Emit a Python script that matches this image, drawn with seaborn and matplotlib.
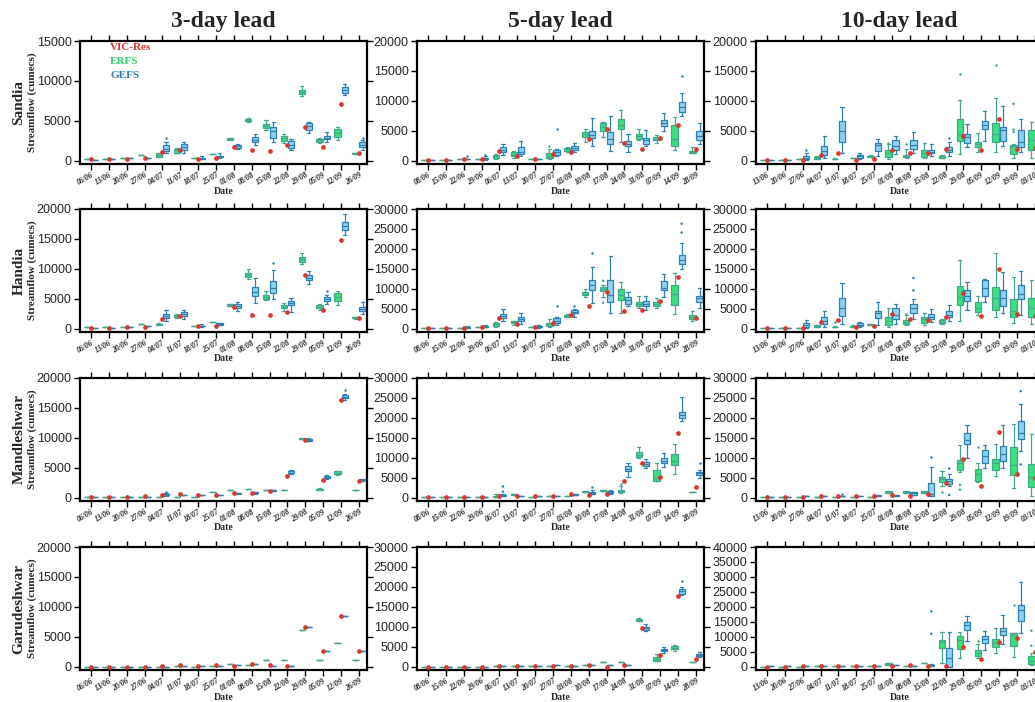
import matplotlib
matplotlib.use("Agg")
import matplotlib.pyplot as plt
import seaborn as sns
import pandas as pd

# dates of the forecast issue for each lead time
dates_3 = ['06/06', '13/06', '20/06', '27/06', '04/07', '11/07', '18/07', '25/07',
           '01/08', '08/08', '15/08', '22/08', '29/08', '05/09', '12/09', '26/09']
dates_5 = ['08/06', '15/06', '22/06', '29/06', '06/07', '13/07', '20/07', '27/07',
           '03/08', '10/08', '17/08', '24/08', '31/08', '07/09', '14/09', '28/09']
dates_10 = ['13/06', '20/06', '27/06', '04/07', '11/07', '18/07', '25/07', '01/08',
            '08/08', '15/08', '22/08', '29/08', '05/09', '12/09', '19/09', '03/10']

# boxes: (low whisker, q1, median, q3, high whisker) or one value for a flat box
# outliers: (date index, model, value)

# ---- Sandia
sandia_3_erfs = [150, 200, 300, 700, (450, 500, 650, 900, 950), (900, 1000, 1300, 1500, 1600), 300, 800,
                 (2600, 2650, 2700, 2800, 2850), (4900, 5000, 5100, 5200, 5400), (3900, 4100, 4300, 4600, 5100),
                 (2200, 2500, 2800, 3100, 3400), (8100, 8300, 8600, 8900, 9300), (2200, 2400, 2550, 2700, 2900),
                 (2600, 3000, 3500, 4000, 4200), (850, 870, 900, 950, 1000)]
sandia_3_gefs = [100, 150, 300, 300, (900, 1200, 1500, 1900, 2300), (1000, 1350, 1700, 2100, 2300),
                 (200, 250, 300, 350, 600), (300, 400, 500, 600, 900), (1500, 1600, 1800, 2000, 2100),
                 (2000, 2300, 2600, 3000, 3300), (2300, 2900, 3700, 4200, 4900), (1300, 1600, 2000, 2500, 2700),
                 (3500, 3900, 4300, 4700, 4900), (2400, 2700, 2900, 3100, 3600), (8200, 8500, 8800, 9200, 9600),
                 (1300, 1700, 2000, 2300, 2600)]
sandia_3_obs = [150, 150, 250, 300, 1050, 1350, 250, 350, 1750, 1300, 1200, 1900, 4200, 1750, 7100, 900]
sandia_3_out = [(4, 'GEFS', 2800), (15, 'GEFS', 2800)]

sandia_5_erfs = [100, 150, 200, 300, (300, 400, 700, 1000, 1100), (500, 700, 1000, 1400, 1600), 250,
                 (200, 400, 800, 1300, 2000), (1400, 1600, 1900, 2100, 2200), (3100, 3900, 4400, 4800, 5300),
                 (3900, 5000, 5700, 6300, 6400), (3100, 5300, 6000, 7000, 8400), (3500, 3700, 4100, 4500, 5300),
                 (2900, 3400, 3600, 3900, 4300), (1700, 2400, 3600, 5900, 7300), (1200, 1300, 1400, 1600, 2200)]
sandia_5_gefs = [100, 100, 250, (100, 200, 300, 500, 700), (1000, 1400, 1800, 2200, 2800),
                 (700, 1100, 1500, 2300, 3300), 300, (800, 1000, 1400, 1800, 2000), (1400, 1800, 2100, 2400, 2900),
                 (2400, 3800, 4300, 5000, 7200), (1600, 2800, 3700, 4800, 7500), (1400, 2400, 2800, 3300, 4400),
                 (2400, 2800, 3400, 3800, 5200), (5000, 5800, 6300, 6800, 8000), (7500, 8200, 9000, 9800, 11300),
                 (2700, 3400, 4100, 4900, 6300)]
sandia_5_obs = [100, 100, 200, 250, 1550, 700, 200, 1050, 1450, 3600, 5300, 2900, 1900, 3800, 6000, 1900]
sandia_5_out = [(2, 'GEFS', 700), (3, 'GEFS', 1000), (7, 'ERFS', 2500), (7, 'GEFS', 5300), (14, 'GEFS', 14100)]

sandia_10_erfs = [100, 150, 200, (200, 200, 400, 600, 800), (250, 280, 300, 330, 400), 400,
                  (600, 600, 700, 800, 900), (300, 600, 1200, 1700, 2800), (400, 600, 800, 1000, 2000),
                  (400, 600, 1300, 1700, 3000), (500, 500, 700, 800, 900), (1100, 3300, 4500, 6900, 10100),
                  (1500, 2200, 2800, 3200, 4600), (1400, 3200, 4500, 6300, 10400), (500, 1100, 2400, 2600, 2800),
                  (500, 1800, 3500, 5100, 6400)]
sandia_10_gefs = [100, 150, (100, 200, 500, 800, 1200), (500, 900, 1600, 2400, 4100), (1200, 3100, 4900, 6600, 8900),
                  (300, 400, 700, 900, 1200), (700, 1600, 2600, 2900, 3700), (1100, 1800, 2500, 3400, 4200),
                  (1200, 1900, 2600, 3400, 4800), (800, 1200, 1500, 1800, 2700), (700, 1500, 1800, 2200, 3200),
                  (2200, 2900, 4000, 4400, 6100), (3300, 5300, 6000, 6600, 8300), (2500, 3300, 5200, 5700, 9100),
                  (1400, 2300, 3200, 5200, 7000), (1500, 2500, 3300, 4500, 6000)]
sandia_10_obs = [100, 150, 150, 1000, 1300, 150, 300, 1700, 1300, 1200, 1900, 4100, 1700, 7000, 1900, 2100]
sandia_10_out = [(2, 'GEFS', 1800), (7, 'ERFS', 3000), (8, 'ERFS', 2800), (10, 'GEFS', 3800), (11, 'ERFS', 14500),
                 (13, 'ERFS', 16000), (14, 'ERFS', 4800), (14, 'ERFS', 5200), (14, 'ERFS', 9500)]

# ---- Handia
handia_3_erfs = [200, 200, 300, 800, (600, 620, 750, 850, 870), (1800, 1900, 2100, 2300, 2400), 450, 1100,
                 (3750, 3800, 3950, 4100, 4150), (8300, 8700, 9000, 9300, 10000), (4800, 5000, 5300, 5600, 6300),
                 (3000, 3400, 3700, 4000, 4300), (10800, 11200, 11600, 12000, 12700), (3100, 3400, 3600, 3900, 4200),
                 (3900, 4700, 5300, 6000, 6300), (1650, 1700, 1800, 1900, 1950)]
handia_3_gefs = [150, 150, 300, 400, (1200, 1700, 2100, 2500, 3100), (1600, 2100, 2400, 2800, 3200),
                 (350, 400, 450, 500, 700), (550, 600, 750, 900, 1000), (3000, 3400, 3750, 4100, 4500),
                 (4300, 5400, 6100, 6900, 8500), (5000, 6000, 6800, 7900, 9800), (2800, 4000, 4300, 4700, 5100),
                 (7500, 8200, 8500, 8900, 9700), (4200, 4700, 5000, 5300, 5700), (15700, 16500, 17100, 17800, 19200),
                 (2500, 2900, 3300, 3700, 4500)]
handia_3_obs = [150, 150, 300, 300, 1600, 2100, 400, 500, 3600, 2200, 2200, 2800, 8900, 3200, 14900, 1800]
handia_3_out = [(10, 'GEFS', 11000), (13, 'GEFS', 6300)]

handia_5_erfs = [100, 150, 250, 450, (500, 700, 1100, 1500, 1600), (1000, 1300, 1600, 1900, 2000), 400,
                 (400, 700, 1100, 1400, 2400), (2900, 3000, 3200, 3400, 3600), (8000, 8400, 8800, 9300, 10000),
                 (8000, 9400, 10000, 10500, 11000), (3900, 7200, 8500, 10000, 11700), (5300, 5800, 6300, 6800, 8200),
                 (5200, 5800, 6300, 6600, 7700), (3600, 6000, 8800, 11000, 13900), (2000, 2500, 3000, 3500, 4500)]
handia_5_gefs = [100, 100, (150, 200, 300, 400, 600), (300, 400, 500, 700, 1000), (1800, 2600, 3200, 3700, 5000),
                 (1200, 1800, 2300, 3000, 4000), (250, 300, 500, 700, 800), (900, 1500, 2000, 2600, 3000),
                 (3000, 3800, 4200, 4800, 5000), (6500, 9700, 11000, 12300, 15500), (4000, 6800, 8500, 12200, 18300),
                 (5600, 6300, 7100, 7900, 9200), (4800, 5700, 6300, 6900, 8200), (8000, 9800, 10200, 11900, 13700),
                 (15000, 16300, 17100, 18500, 21600), (5300, 6800, 7600, 8200, 10200)]
handia_5_obs = [100, 100, 200, 400, 2600, 1100, 400, 1500, 3300, 5600, 9300, 4500, 4700, 7000, 13000, 2600]
handia_5_out = [(7, 'GEFS', 5600), (8, 'GEFS', 5800), (9, 'GEFS', 19000), (10, 'ERFS', 12000),
                (10, 'ERFS', 6500), (14, 'GEFS', 24100), (14, 'GEFS', 26300)]

handia_10_erfs = [100, 150, 200, (300, 300, 600, 800, 900), (350, 380, 400, 450, 600), (400, 400, 600, 700, 800),
                  (800, 800, 900, 1100, 1200), (500, 1000, 2000, 3000, 5200), (800, 1200, 1700, 2200, 3300),
                  (1000, 1500, 2400, 3000, 4000), (1100, 1400, 1700, 2100, 2500), (2000, 6000, 8000, 10800, 17300),
                  (3400, 4200, 5200, 6700, 8300), (2900, 4800, 7600, 10400, 19000), (1400, 2800, 4300, 7400, 13000),
                  (1100, 2800, 5200, 7800, 12200)]
handia_10_gefs = [100, 150, (100, 400, 900, 1500, 2200), (500, 1200, 1800, 3000, 4400),
                  (1200, 3200, 5300, 7600, 11500), (300, 600, 1000, 1300, 1600), (1000, 2600, 3900, 4400, 6800),
                  (1200, 2300, 3300, 5200, 6300), (2400, 3800, 5200, 6200, 7500), (1700, 2400, 3000, 3700, 5000),
                  (1900, 2800, 3300, 4300, 6000), (4600, 6900, 8300, 9700, 11800), (6600, 8200, 10200, 12100, 12500),
                  (4000, 5800, 7700, 9700, 14300), (3300, 7400, 8800, 11000, 14500), (1000, 3000, 5000, 8000, 12000)]
handia_10_obs = [150, 200, 200, 1600, 2100, 400, 600, 3600, 2300, 2200, 2800, 9000, 3200, 15000, 3600, 3200]
handia_10_out = [(4, 'ERFS', 1600), (8, 'GEFS', 9600), (8, 'GEFS', 12700), (8, 'ERFS', 3600)]

# ---- Mandleshwar
mandleshwar_3_erfs = [100, 100, 100, 100, 100, 150, 100, 950, 1300, 1400, 1350, 1300,
                      (9750, 9800, 9850, 9900, 9950), (1250, 1300, 1400, 1500, 1550),
                      (3800, 3900, 4100, 4400, 4500), 1300]
mandleshwar_3_gefs = [100, 100, 100, 100, (350, 400, 500, 600, 700), 500, 400, 400, (550, 600, 700, 800, 850),
                      (650, 700, 800, 900, 950), (1050, 1100, 1200, 1300, 1350), (3900, 4100, 4200, 4400, 4600),
                      (9400, 9500, 9600, 9800, 9900), (3200, 3300, 3500, 3700, 3800),
                      (16300, 16600, 16900, 17100, 17300), (2850, 2900, 3000, 3100, 3150)]
mandleshwar_3_obs = [100, 100, 100, 200, 400, 600, 400, 400, 800, 700, 1100, 3700, 9700, 3000, 16400, 2800]
mandleshwar_3_out = [(4, 'GEFS', 1000), (14, 'GEFS', 18000)]

mandleshwar_5_erfs = [100, 100, 100, 100, (100, 100, 200, 500, 800), (700, 700, 900, 1000, 1000), 200, 400, 300,
                      (1300, 1300, 1500, 1700, 1700), (1600, 1600, 1700, 1900, 1900), (1100, 1400, 1600, 2000, 2800),
                      (9900, 10300, 10800, 11400, 12700), (4200, 4300, 5000, 6900, 8800),
                      (5900, 8200, 9300, 11000, 13400), 1500]
mandleshwar_5_gefs = [100, 100, 100, 100, (300, 400, 600, 700, 800), 300, 300, 300, (600, 600, 700, 900, 900),
                      (800, 1000, 1100, 1300, 1800), (1000, 1200, 1400, 1600, 2000), (5100, 6800, 7200, 7900, 8800),
                      (7400, 8000, 8500, 8900, 9600), (7800, 8800, 9300, 10000, 11300),
                      (19300, 20000, 20800, 21600, 25200), (5000, 5800, 6100, 6500, 7000)]
mandleshwar_5_obs = [100, 100, 100, 150, 500, 400, 300, 300, 800, 700, 900, 4200, 8800, 5300, 16300, 2600]
mandleshwar_5_out = [(4, 'GEFS', 1500), (4, 'GEFS', 2800), (9, 'GEFS', 2700), (11, 'ERFS', 3500), (15, 'GEFS', 8700)]

mandleshwar_10_erfs = [100, 100, 100, 150, 200, 200, 200, (1200, 1200, 1400, 1600, 1600),
                       (1200, 1200, 1400, 1600, 1600), (1200, 1200, 1400, 1600, 1600), (3000, 3900, 4800, 5300, 6800),
                       (6500, 7000, 8600, 9500, 13300), (3800, 4200, 5900, 7200, 8700),
                       (5400, 6900, 8800, 9800, 13500), (2400, 5700, 8200, 12700, 18500),
                       (500, 2700, 5300, 8500, 15900)]
mandleshwar_10_gefs = [100, 100, 300, 400, 300, 300, (300, 300, 500, 700, 700), (300, 300, 500, 600, 600),
                       (700, 700, 1100, 1500, 1500), (300, 500, 1000, 3700, 7800), (2800, 3300, 4200, 4700, 5900),
                       (10000, 13500, 14500, 16200, 18300), (7500, 8700, 10500, 12000, 13300),
                       (7500, 9300, 11000, 13000, 18200), (11600, 14700, 16100, 19100, 23400),
                       (5000, 5000, 7000, 9000, 12000)]
mandleshwar_10_obs = [100, 100, 100, 400, 500, 300, 300, 600, 500, 1000, 3700, 9700, 3000, 16400, 6000, 5000]
mandleshwar_10_out = [(4, 'GEFS', 1000), (9, 'GEFS', 10300), (10, 'ERFS', 1500), (10, 'GEFS', 700),
                      (10, 'GEFS', 7300), (11, 'ERFS', 2000), (11, 'ERFS', 3200), (12, 'ERFS', 12700),
                      (14, 'GEFS', 26700), (14, 'GEFS', 8300)]

# ---- Garudeshwar
garudeshwar_3_erfs = [0, 0, 0, 0, 0, 50, 0, 50, 400, 200, 1100, 1100, 6200, 1100, 3900, 1100]
garudeshwar_3_gefs = [0, 0, 0, 0, 0, 150, 100, 100, 200, 400, 150, 50, 6600, 2600, 8400, 2600]
garudeshwar_3_obs = [0, 0, 0, 0, 50, 250, 150, 200, 100, 500, 200, 50, 6600, 2600, 8400, 2600]
garudeshwar_3_out = []

garudeshwar_5_erfs = [0, 0, 0, 0, 100, 100, 100, 200, 100, 400, 1100, 1200, (11400, 11500, 11800, 12000, 12100),
                      (1300, 1500, 1900, 2300, 3200), (4000, 4500, 4800, 5200, 5400), 1100]
garudeshwar_5_gefs = [0, 0, 0, 0, 100, 100, 200, 300, 200, 300, 300, 400, (9000, 9200, 9600, 10000, 10600),
                      (3500, 3800, 4100, 4500, 5000), (17900, 18300, 18900, 19500, 20000),
                      (2300, 2600, 2900, 3200, 3700)]
garudeshwar_5_obs = [0, 0, 0, 0, 200, 200, 200, 200, 100, 400, 0, 300, 9800, 2800, 17700, 2000]
garudeshwar_5_out = [(14, 'GEFS', 21500)]

garudeshwar_10_erfs = [0, 0, 0, 100, 100, 100, 100, (600, 600, 800, 1100, 1100), 300, 1200,
                       (1100, 6300, 8400, 9000, 11500), (2800, 5800, 9000, 10400, 11500),
                       (2800, 3600, 4600, 5400, 7500), (4500, 6600, 8000, 9300, 12800),
                       (3300, 7000, 10700, 11300, 11300), (500, 1000, 2000, 3500, 4500)]
garudeshwar_10_gefs = [100, 100, 200, 200, 300, 300, 300, 500, 300, (100, 200, 400, 600, 1000),
                       (0, 0, 3000, 6300, 11500), (8500, 12300, 13800, 15000, 17000),
                       (5500, 7800, 9300, 10300, 11800), (7500, 10500, 12000, 12900, 17200),
                       (11300, 15100, 19000, 20600, 28400), (5000, 6500, 8000, 10000, 12000)]
garudeshwar_10_obs = [0, 0, 100, 100, 300, 200, 300, 200, 600, 300, 100, 6700, 2600, 8400, 9600, 4800]
garudeshwar_10_out = [(9, 'GEFS', 11000), (9, 'GEFS', 18500), (12, 'ERFS', 8700), (14, 'ERFS', 20500),
                      (15, 'ERFS', 7000), (15, 'ERFS', 12000)]

stations = ['Sandia', 'Handia', 'Mandleshwar', 'Garudeshwar']
leads = ['3-day lead', '5-day lead', '10-day lead']
y_tops = [[15000, 20000, 20000], [20000, 30000, 30000], [20000, 30000, 30000], [20000, 30000, 40000]]

panels = [
    [(sandia_3_erfs, sandia_3_gefs, sandia_3_obs, sandia_3_out),
     (sandia_5_erfs, sandia_5_gefs, sandia_5_obs, sandia_5_out),
     (sandia_10_erfs, sandia_10_gefs, sandia_10_obs, sandia_10_out)],
    [(handia_3_erfs, handia_3_gefs, handia_3_obs, handia_3_out),
     (handia_5_erfs, handia_5_gefs, handia_5_obs, handia_5_out),
     (handia_10_erfs, handia_10_gefs, handia_10_obs, handia_10_out)],
    [(mandleshwar_3_erfs, mandleshwar_3_gefs, mandleshwar_3_obs, mandleshwar_3_out),
     (mandleshwar_5_erfs, mandleshwar_5_gefs, mandleshwar_5_obs, mandleshwar_5_out),
     (mandleshwar_10_erfs, mandleshwar_10_gefs, mandleshwar_10_obs, mandleshwar_10_out)],
    [(garudeshwar_3_erfs, garudeshwar_3_gefs, garudeshwar_3_obs, garudeshwar_3_out),
     (garudeshwar_5_erfs, garudeshwar_5_gefs, garudeshwar_5_obs, garudeshwar_5_out),
     (garudeshwar_10_erfs, garudeshwar_10_gefs, garudeshwar_10_obs, garudeshwar_10_out)],
]
lead_dates = [dates_3, dates_5, dates_10]

models = ['ERFS', 'GEFS']
fill_colors = {'ERFS': '#38e07c', 'GEFS': '#8ed2f2'}
line_colors = {'ERFS': '#45a88e', 'GEFS': '#2f80b4'}
obs_color = '#d8392b'
text_colors = {'VIC-Res': '#d13b2e', 'ERFS': '#35cc72', 'GEFS': '#2d7fb8'}

sns.set_style('white')
plt.rcParams['font.family'] = ['Liberation Sans', 'DejaVu Sans']
serif = ['Liberation Serif', 'DejaVu Serif']


def box_frame(boxes, dates, model):
    rows = []
    for d, b in zip(dates, boxes):
        if not isinstance(b, tuple):
            b = (b,) * 5
        for v in b:
            rows.append((d, model, v))
    return pd.DataFrame(rows, columns=['date', 'model', 'flow'])


def draw_panel(ax, dates, erfs, gefs, obs, outliers, ymax):
    for model, boxes in (('ERFS', erfs), ('GEFS', gefs)):
        df = box_frame(boxes, dates, model)
        sns.boxplot(data=df, x='date', y='flow', hue='model', order=dates, hue_order=models,
                    palette=fill_colors, saturation=1, linecolor=line_colors[model], linewidth=0.9,
                    whis=(0, 100), showfliers=False, width=0.8, gap=0.12, dodge=True,
                    legend=False, ax=ax)
    if outliers:
        out_df = pd.DataFrame([(dates[i], m, v) for i, m, v in outliers], columns=['date', 'model', 'flow'])
        sns.stripplot(data=out_df, x='date', y='flow', hue='model', order=dates, hue_order=models,
                      palette=line_colors, dodge=True, jitter=False, size=1.8, legend=False, ax=ax)
    sns.stripplot(x=dates, y=obs, order=dates, jitter=False, color=obs_color, size=3.4,
                  linewidth=0, ax=ax, zorder=6)

    ax.set_xlim(-0.61, 15.45)
    ax.set_ylim(-0.028 * ymax, ymax)
    ax.set_yticks(range(0, ymax + 1, 5000))
    ax.set_yticklabels([str(v) for v in range(0, ymax + 1, 5000)], fontsize=9)
    ax.set_xticks(range(len(dates)))
    ax.set_xticklabels(dates, rotation=30, ha='right', rotation_mode='anchor',
                       fontsize=5.5, family=serif, style='italic', weight='bold')
    ax.tick_params(axis='both', direction='out', length=4, width=1, color='black',
                   top=True, right=True, bottom=True, left=True, pad=2)
    ax.tick_params(axis='x', pad=1)
    ax.set_xlabel('')
    ax.set_ylabel('')
    for s in ax.spines.values():
        s.set_linewidth(1.6)
        s.set_color('black')
    ax.text(0.5, -27 / 123, 'Date', transform=ax.transAxes, ha='center', va='center',
            fontsize=7, weight='bold', family=serif)


W, H = 1035, 702
col_left = [80, 417, 756]
row_top = [41, 209, 378, 547]
pw, ph = 287, 123

fig = plt.figure(figsize=(W / 100, H / 100), dpi=100)

for r, station in enumerate(stations):
    for c in range(3):
        ax = fig.add_axes([col_left[c] / W, 1 - (row_top[r] + ph) / H, pw / W, ph / H])
        erfs, gefs, obs, out = panels[r][c]
        draw_panel(ax, lead_dates[c], erfs, gefs, obs, out, y_tops[r][c])
        if r == 0 and c == 0:
            for k, name in enumerate(['VIC-Res', 'ERFS', 'GEFS']):
                ax.text(0.105, 0.95 - k * 0.114, name, transform=ax.transAxes, ha='left', va='center',
                        color=text_colors[name], fontsize=8, weight='bold', family=serif)
    yc = 1 - (row_top[r] + ph / 2) / H
    fig.text(19 / W, yc, station, rotation=90, ha='center', va='center',
             fontsize=11, weight='bold', family=serif)
    fig.text(32 / W, yc, 'Streamflow (cumecs)', rotation=90, ha='center', va='center',
             fontsize=8, weight='bold', family=serif)

for c, lead in enumerate(leads):
    fig.text((col_left[c] + pw / 2) / W, 1 - 22 / H, lead, ha='center', va='center',
             fontsize=17, weight='bold', family=serif)

fig.savefig('out.png', dpi=100)
